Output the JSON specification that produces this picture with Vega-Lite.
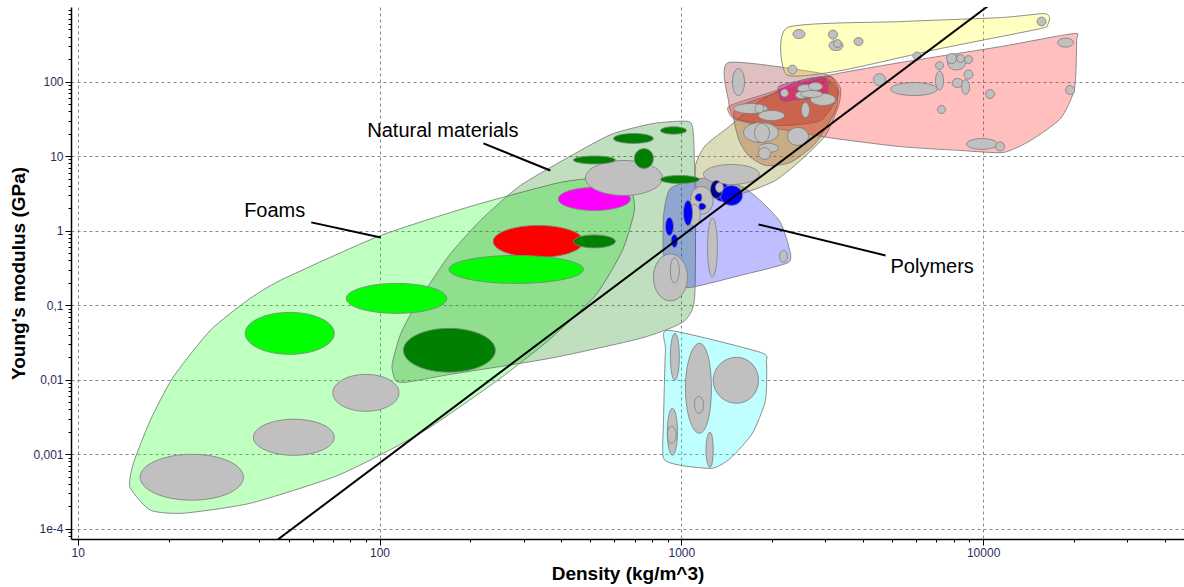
{
  "$schema": "https://vega.github.io/schema/vega-lite/v6.json",
  "width": 1113,
  "height": 532,
  "autosize": {"type": "none"},
  "padding": {"left": 71, "top": 7, "right": 0, "bottom": 48},
  "background": "white",
  "config": {"view": {"stroke": null}, "font": "Liberation Sans"},
  "datasets": {
    "envelopes": [
      {"id": "v01", "grp": "foam", "rho": [14.9,15.3,17.4,20.7,27.5,36.5,46.9,99.1,200,397,582,678,699,638,519,363,246,147,103,70.3,37.3,22.4,17.4], "E": [3.61e-4,7.57e-4,2.86e-3,1.08e-2,4.6e-2,0.116,0.215,0.836,2.11,4.43,5.17,3.68,1.87,0.543,0.135,0.0338,0.00981,0.0023,1.03e-3,4.92e-4,2.2e-4,1.62e-4,1.78e-4]},
      {"id": "v02", "grp": "natural", "rho": [113,110,117,129,168,216,293,463,596,808,1056,1097,1114,1105,1009,732,368,172,122], "E": [0.00981,0.0156,0.0394,0.0852,0.437,1.37,4.03,11.9,20.1,27.4,29.1,18.9,1.87,0.116,0.0588,0.0359,0.0194,0.0118,0.00923]},
      {"id": "v03", "grp": "elastomer", "rho": [907,1829,1915,1900,1720,1455,1268,993,873,873,886], "E": [0.046,0.0233,0.0171,0.00529,0.00191,8.84e-4,6.49e-4,7.12e-4,8.84e-4,0.00286,0.0248]},
      {"id": "v04", "grp": "polymer", "rho": [920,1157,1400,1632,1900,2131,2265,2265,1570,1072,920,873,873], "E": [3.68,5.01,4.71,3.68,2.18,1.288,0.633,0.375,0.251,0.173,0.196,0.465,1.6]},
      {"id": "v05", "grp": "composite", "rho": [1131,1114,1202,1455,1829,2482,3121,3369,3318,3003,2482,2051,1632,1298], "E": [3.25,7.48,13.9,25.7,55.6,103,117,80.6,47.7,18.9,8.73,4.71,3.25,2.87]},
      {"id": "v06", "grp": "maroon", "rho": [1433,2935,3242,3318,2891,2131,1512,1433], "E": [180,128,97,64.9,30,25.7,31.9,55.6]},
      {"id": "v07", "grp": "tan", "rho": [1512,2300,3003,3292,3242,2783,2300,1900,1669,1546], "E": [43.5,80.6,110,75.8,40.9,14.8,8.21,7.48,10.2,17.2]},
      {"id": "v08", "grp": "metal", "rho": [1433,1829,2958,5324,11420,19940,20400,20090,18050,14360,11680,8418,5324,3050,1829,1489], "E": [46.2,64.9,117,180,294,440,354,80.6,31.9,16.2,11.2,11.9,13.4,17.8,25.7,31.9]},
      {"id": "v09", "grp": "ceramic", "rho": [2247,5324,11420,15860,16610,16360,15500,7224,3369,2230], "E": [530,637,721,815,721,581,513,277,140,124]},
      {"id": "v10", "grp": "alloy", "rho": [2098,2482,2981,3073,3027,2482,2147], "E": [85.7,103,117,88.4,61,57.4,53.9]}
    ],
    "materials": [
      {"id": "e01", "c": "gray", "rho": [16.1,23.9,35.4,23.9], "E": [4.92e-4,1.0e-3,4.92e-4,2.42e-4]},
      {"id": "e02", "c": "gray", "rho": [38.2,52.0,70.8,52.0], "E": [1.69e-3,2.95e-3,1.69e-3,9.69e-4]},
      {"id": "e03", "c": "gray", "rho": [70.0,90.1,116,90.1], "E": [6.67e-3,0.0118,6.67e-3,3.77e-3]},
      {"id": "e04", "c": "lime", "rho": [35.9,50.4,70.8,50.4], "E": [0.0419,0.08,0.0419,0.0219]},
      {"id": "e05", "c": "lime", "rho": [77.6,114,167,114], "E": [0.123,0.196,0.123,0.0776]},
      {"id": "e06", "c": "red", "rho": [238,336,474,336], "E": [0.717,1.174,0.717,0.437]},
      {"id": "e07", "c": "lime", "rho": [170,284,474,284], "E": [0.302,0.465,0.302,0.196]},
      {"id": "e08", "c": "dkgreen", "rho": [120,170,242,170], "E": [0.0248,0.0489,0.0248,0.0126]},
      {"id": "e09", "c": "dkgreen", "rho": [439,515,605,515], "E": [0.717,0.876,0.717,0.587]},
      {"id": "e10", "c": "magenta", "rho": [391,515,678,515], "E": [2.66,3.795,2.66,1.866]},
      {"id": "e11", "c": "gray", "rho": [481,645,866,645], "E": [5.09,8.73,5.09,2.965]},
      {"id": "e12", "c": "dkgreen", "rho": [439,515,605,515], "E": [8.87,10.03,8.87,7.84]},
      {"id": "e13", "c": "dkgreen", "rho": [596,694,808,694], "E": [17.2,20.1,17.2,14.8]},
      {"id": "e14", "c": "dkgreen", "rho": [853,942,1040,942], "E": [22.0,24.7,22.0,19.7]},
      {"id": "e15", "c": "dkgreen", "rho": [699,752,808,752], "E": [9.29,12.6,9.29,6.82]},
      {"id": "e16", "c": "dkgreen", "rho": [853,985,1148,985], "E": [4.86,5.5,4.86,4.29]},
      {"id": "e17", "c": "gray", "rho": [808,920,1048,920], "E": [0.236,0.487,0.236,0.114]},
      {"id": "e18", "c": "gray", "rho": [920,949,985,949], "E": [0.293,0.431,0.293,0.199]},
      {"id": "e19", "c": "gray", "rho": [1221,1268,1317,1268], "E": [0.596,1.48,0.596,0.24]},
      {"id": "e20", "c": "gray", "rho": [1184,1466,1815,1466], "E": [5.67,7.72,5.67,4.16]},
      {"id": "e21", "c": "gray", "rho": [1072,1166,1275,1166], "E": [2.54,3.91,2.54,1.65]},
      {"id": "e22", "c": "gray", "rho": [1056,1105,1157,1105], "E": [1.6,2.245,1.6,1.138]},
      {"id": "e23", "c": "blue", "rho": [1016,1052,1089,1052], "E": [1.727,2.54,1.727,1.174]},
      {"id": "e24", "c": "blue", "rho": [886,913,942,913], "E": [1.138,1.503,1.138,0.862]},
      {"id": "e25", "c": "blue", "rho": [925,949,973,949], "E": [0.728,0.889,0.728,0.596]},
      {"id": "e26", "c": "blue", "rho": [1109,1148,1170,1148], "E": [2.786,3.15,2.786,2.463]},
      {"id": "e27", "c": "blue", "rho": [1144,1166,1207,1166], "E": [2.11,2.35,2.11,1.894]},
      {"id": "e28", "c": "blue", "rho": [1275,1368,1455,1368], "E": [3.25,4.29,3.25,2.463]},
      {"id": "e29", "c": "blue", "rho": [1348,1466,1595,1466], "E": [2.965,4.03,2.965,2.18]},
      {"id": "e30", "c": "navy", "rho": [1249,1307,1368,1307], "E": [3.567,4.71,3.567,2.7]},
      {"id": "e31", "c": "gray", "rho": [1298,1337,1379,1337], "E": [3.795,4.43,3.795,3.25]},
      {"id": "e32", "c": "gray", "rho": [2115,2180,2247,2180], "E": [0.451,0.543,0.451,0.375]},
      {"id": "e33", "c": "gray", "rho": [920,952,985,952], "E": [0.0203,0.0419,0.0203,0.00981]},
      {"id": "e34", "c": "gray", "rho": [1032,1148,1258,1148], "E": [0.00767,0.0308,0.00767,0.00191]},
      {"id": "e35", "c": "gray", "rho": [1105,1144,1184,1144], "E": [0.00461,0.00599,0.00461,0.00354]},
      {"id": "e36", "c": "gray", "rho": [1275,1523,1802,1523], "E": [0.00981,0.02,0.00981,0.00483]},
      {"id": "e37", "c": "gray", "rho": [899,934,971,934], "E": [0.002,0.00414,0.002,9.69e-4]},
      {"id": "e38", "c": "gray", "rho": [899,927,963,927], "E": [0.00183,0.00237,0.00183,0.0014]},
      {"id": "e39", "c": "gray", "rho": [1207,1244,1275,1244], "E": [0.00115,0.00197,0.00115,6.69e-4]},
      {"id": "e40", "c": "gray", "rho": [1477,1546,1619,1546], "E": [98.5,149,98.5,64.9]},
      {"id": "e41", "c": "gray", "rho": [1489,1695,1929,1695], "E": [43.5,50.7,43.5,37.2]},
      {"id": "e42", "c": "gray", "rho": [1754,1815,1878,1815], "E": [43.5,49.9,43.5,37.8]},
      {"id": "e43", "c": "gray", "rho": [1802,1989,2197,1989], "E": [35.0,40.9,35.0,30.0]},
      {"id": "e44", "c": "gray", "rho": [1607,1836,2098,1836], "E": [20.7,28.2,20.7,15.2]},
      {"id": "e45", "c": "gray", "rho": [1747,1850,1959,1850], "E": [20.4,27.4,20.4,15.2]},
      {"id": "e46", "c": "gray", "rho": [2247,2435,2638,2435], "E": [18.3,24.2,18.3,13.9]},
      {"id": "e47", "c": "gray", "rho": [1802,1944,2098,1944], "E": [12.8,14.8,12.8,11.2]},
      {"id": "e48", "c": "gray", "rho": [1802,1886,1974,1886], "E": [10.8,13.0,10.8,9.0]},
      {"id": "e49", "c": "gray", "rho": [2501,2578,2658,2578], "E": [41.5,52.3,41.5,32.9]},
      {"id": "e50", "c": "gray", "rho": [2679,2947,3242,2947], "E": [57.4,69.0,57.4,47.7]},
      {"id": "e51", "c": "gray", "rho": [2131,2197,2265,2197], "E": [70.1,79.3,70.1,62.0]},
      {"id": "e52", "c": "gray", "rho": [2426,2578,2741,2578], "E": [80.6,91.2,80.6,71.2]},
      {"id": "e53", "c": "gray", "rho": [2389,2501,2618,2501], "E": [65.9,73.9,65.9,58.8]},
      {"id": "e54", "c": "gray", "rho": [2482,2700,2935,2700], "E": [68.0,75.8,68.0,61.0]},
      {"id": "e55", "c": "gray", "rho": [2638,2783,2935,2783], "E": [85.7,97,85.7,75.8]},
      {"id": "e56", "c": "gray", "rho": [2256,2335,2417,2335], "E": [145,166,145,126]},
      {"id": "e57", "c": "gray", "rho": [4333,4536,4749,4536], "E": [106,128,106,88.4]},
      {"id": "e58", "c": "gray", "rho": [4933,5902,7062,5902], "E": [79.3,97,79.3,64.9]},
      {"id": "e59", "c": "gray", "rho": [6955,7170,7392,7170], "E": [103,138,103,76.9]},
      {"id": "e60", "c": "gray", "rho": [7062,7279,7505,7279], "E": [42.1,47.7,42.1,37.2]},
      {"id": "e61", "c": "gray", "rho": [6955,7170,7392,7170], "E": [164,185,164,145]},
      {"id": "e62", "c": "gray", "rho": [7622,8164,8744,8164], "E": [180,227,180,143]},
      {"id": "e63", "c": "gray", "rho": [7562,7858,8164,7858], "E": [203,237,203,174]},
      {"id": "e64", "c": "gray", "rho": [8164,8418,8680,8418], "E": [203,230,203,180]},
      {"id": "e65", "c": "gray", "rho": [8680,8946,9226,8946], "E": [197,223,197,174]},
      {"id": "e66", "c": "gray", "rho": [8645,8946,9261,8946], "E": [124,143,124,108]},
      {"id": "e67", "c": "gray", "rho": [7889,8227,8579,8227], "E": [95.5,110,95.5,83.1]},
      {"id": "e68", "c": "gray", "rho": [8483,8744,9016,8744], "E": [84.4,106,84.4,66.9]},
      {"id": "e69", "c": "gray", "rho": [10190,10540,10910,10540], "E": [68.0,78.1,68.0,59.2]},
      {"id": "e70", "c": "gray", "rho": [5857,6039,6226,6039], "E": [220,249,220,194]},
      {"id": "e71", "c": "gray", "rho": [3734,3865,4000,3865], "E": [344,389,344,304]},
      {"id": "e72", "c": "gray", "rho": [15090,15620,16160,15620], "E": [637,732,637,555]},
      {"id": "e73", "c": "gray", "rho": [17650,18760,19940,18760], "E": [333,383,333,290]},
      {"id": "e74", "c": "gray", "rho": [18760,19420,20090,19420], "E": [76.9,88.4,76.9,66.9]},
      {"id": "e75", "c": "gray", "rho": [8810,9918,11160,9918], "E": [14.5,17.2,14.5,12.3]},
      {"id": "e76", "c": "gray", "rho": [10990,11380,11780,11380], "E": [13.4,15.5,13.4,11.7]},
      {"id": "e77", "c": "gray", "rho": [2344,2454,2569,2454], "E": [433,498,433,377]},
      {"id": "e78", "c": "gray", "rho": [3073,3180,3292,3180], "E": [427,490,427,371]},
      {"id": "e79", "c": "gray", "rho": [3085,3254,3434,3254], "E": [304,354,304,260]},
      {"id": "e80", "c": "gray", "rho": [3193,3292,3394,3292], "E": [323,366,323,286]}
    ],
    "guide": [
      {"rho": 37.3, "E": 3.79e-5},
      {"rho": 12140, "E": 1660}
    ],
    "leaders": [
      {"rho": 221, "E": 14.8, "rho2": 368, "E2": 6.41},
      {"rho": 59.4, "E": 1.29, "rho2": 101, "E2": 0.811},
      {"rho": 1802, "E": 1.21, "rho2": 4749, "E2": 0.465}
    ],
    "labels": [
      {"rho": 91.1, "E": 22.0, "label": "Natural materials"},
      {"rho": 35.6, "E": 1.81, "label": "Foams"},
      {"rho": 4933, "E": 0.321, "label": "Polymers"}
    ]
  },
  "resolve": {"scale": {"fill": "independent"}},
  "layer": [
    {
      "data": {"name": "envelopes"},
      "transform": [{"flatten": ["rho", "E"]}],
      "mark": {"type": "line", "interpolate": "cardinal-closed", "tension": 0.4, "stroke": "#7a7a7a", "strokeWidth": 1, "strokeOpacity": 0.85},
      "encoding": {
        "x": {
          "field": "rho", "type": "quantitative",
          "scale": {"type": "log", "domain": [9.5, 46300], "nice": false, "zero": false},
          "axis": {
            "title": "Density (kg/m^3)",
            "values": [10,20,30,40,50,60,70,80,90,100,200,300,400,500,600,700,800,900,1000,2000,3000,4000,5000,6000,7000,8000,9000,10000,20000,30000,40000],
            "labelExpr": "abs(log(datum.value)/LN10 - round(log(datum.value)/LN10)) < 0.001 ? toString(datum.value) : ''",
            "labelFlush": false, "labelOverlap": false, "labelBound": false,
            "labelFont": "Liberation Sans", "labelFontSize": 12, "labelColor": "#2b2b5a", "labelPadding": 2,
            "tickColor": "black",
            "tickSize": {"condition": {"test": "abs(log(datum.value)/LN10 - round(log(datum.value)/LN10)) < 0.001", "value": 6}, "value": 3},
            "domainColor": "black", "domainWidth": 1.5,
            "grid": true, "gridColor": "#8a8a8a", "gridDash": [3, 3], "gridWidth": 1,
            "gridOpacity": {"condition": {"test": "abs(log(datum.value)/LN10 - round(log(datum.value)/LN10)) < 0.001", "value": 1}, "value": 0},
            "titleFont": "Liberation Sans", "titleFontSize": 19, "titleFontWeight": "bold", "titleColor": "black", "titlePadding": 6
          }
        },
        "y": {
          "field": "E", "type": "quantitative",
          "scale": {"type": "log", "domain": [7.3e-5, 1000], "nice": false, "zero": false},
          "axis": {
            "title": "Young's modulus (GPa)",
            "values": [0.00008,0.00009,0.0001,0.0002,0.0003,0.0004,0.0005,0.0006,0.0007,0.0008,0.0009,0.001,0.002,0.003,0.004,0.005,0.006,0.007,0.008,0.009,0.01,0.02,0.03,0.04,0.05,0.06,0.07,0.08,0.09,0.1,0.2,0.3,0.4,0.5,0.6,0.7,0.8,0.9,1,2,3,4,5,6,7,8,9,10,20,30,40,50,60,70,80,90,100,200,300,400,500,600,700,800,900],
            "labelExpr": "abs(log(datum.value)/LN10 - round(log(datum.value)/LN10)) < 0.001 ? (datum.value < 0.0005 ? '1e-4' : replace(toString(datum.value), '.', ',')) : ''",
            "labelOverlap": false, "labelBound": false, "labelFlush": false,
            "labelFont": "Liberation Sans", "labelFontSize": 12, "labelColor": "#2b2b5a", "labelPadding": 2,
            "tickColor": "black",
            "tickSize": {"condition": {"test": "abs(log(datum.value)/LN10 - round(log(datum.value)/LN10)) < 0.001", "value": 6}, "value": 3},
            "domainColor": "black", "domainWidth": 1.5,
            "grid": true, "gridColor": "#8a8a8a", "gridDash": [3, 3], "gridWidth": 1,
            "gridOpacity": {"condition": {"test": "abs(log(datum.value)/LN10 - round(log(datum.value)/LN10)) < 0.001", "value": 1}, "value": 0},
            "titleFont": "Liberation Sans", "titleFontSize": 19, "titleFontWeight": "bold", "titleColor": "black", "titlePadding": 4
          }
        },
        "detail": {"field": "id", "type": "nominal"},
        "order": {"value": null},
        "fill": {
          "field": "grp", "type": "nominal", "legend": null,
          "scale": {
            "domain": ["foam", "natural", "elastomer", "polymer", "composite", "maroon", "tan", "metal", "ceramic", "alloy"],
            "range": ["rgba(0,255,0,0.25)", "rgba(0,128,0,0.25)", "rgba(0,255,255,0.25)", "rgba(0,0,255,0.25)", "rgba(128,128,0,0.28)", "rgba(128,0,0,0.25)", "rgba(165,75,35,0.34)", "rgba(255,0,0,0.25)", "rgba(255,255,0,0.25)", "rgba(220,0,140,0.45)"]
          }
        }
      }
    },
    {
      "data": {"name": "materials"},
      "transform": [{"flatten": ["rho", "E"]}],
      "mark": {"type": "line", "interpolate": "cardinal-closed", "tension": -0.657, "stroke": "#808080", "strokeWidth": 1, "strokeOpacity": 0.85},
      "encoding": {
        "x": {"field": "rho", "type": "quantitative"},
        "y": {"field": "E", "type": "quantitative"},
        "detail": {"field": "id", "type": "nominal"},
        "order": {"value": null},
        "fill": {
          "field": "c", "type": "nominal", "legend": null,
          "scale": {
            "domain": ["gray", "lime", "dkgreen", "red", "magenta", "blue", "navy"],
            "range": ["#c0c0c0", "#00ff00", "#008000", "#ff0000", "#ff00ff", "#0000ff", "#00008b"]
          }
        }
      }
    },
    {
      "data": {"name": "guide"},
      "mark": {"type": "line", "color": "black", "strokeWidth": 2, "clip": true},
      "encoding": {
        "x": {"field": "rho", "type": "quantitative"},
        "y": {"field": "E", "type": "quantitative"}
      }
    },
    {
      "data": {"name": "leaders"},
      "mark": {"type": "rule", "color": "black", "strokeWidth": 2},
      "encoding": {
        "x": {"field": "rho", "type": "quantitative"},
        "y": {"field": "E", "type": "quantitative"},
        "x2": {"field": "rho2"},
        "y2": {"field": "E2"}
      }
    },
    {
      "data": {"name": "labels"},
      "mark": {"type": "text", "align": "left", "baseline": "middle", "font": "Liberation Sans", "fontSize": 20, "color": "black"},
      "encoding": {
        "x": {"field": "rho", "type": "quantitative"},
        "y": {"field": "E", "type": "quantitative"},
        "text": {"field": "label"}
      }
    },
    {
      "mark": {"type": "rule", "color": "#6e6e6e", "strokeWidth": 1.5},
      "encoding": {"y": {"datum": 1000}}
    }
  ]
}
